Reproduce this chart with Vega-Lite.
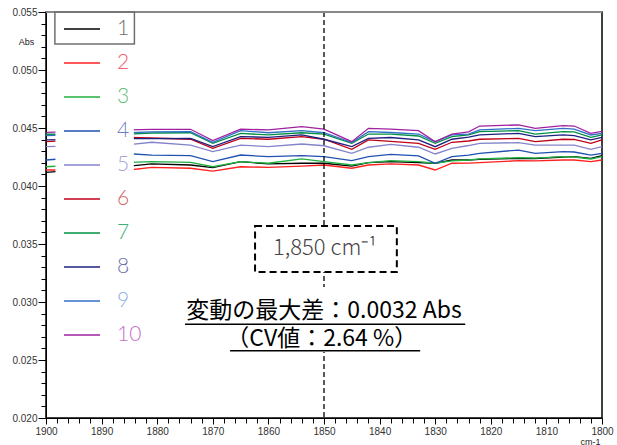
{
  "$schema": "https://vega.github.io/schema/vega-lite/v6.json",
  "width": 556,
  "height": 406,
  "autosize": {"type": "none"},
  "padding": {"left": 46, "top": 12, "right": 15, "bottom": 27},
  "background": "white",
  "config": {
    "view": {"stroke": "black", "strokeWidth": 1.5},
    "axis": {"grid": false, "domainColor": "black", "tickColor": "black", "labelFont": "Liberation Sans", "labelFontSize": 10, "labelColor": "#333333", "titleFont": "Liberation Sans", "titleColor": "#222222"}
  },
  "resolve": {"axis": {"x": "independent", "y": "independent"}},
  "datasets": {
    "spectra": [
      {"x": 1900, "1": 0.04118, "2": 0.04138, "3": 0.04166, "4": 0.04224, "5": 0.04339, "6": 0.04382, "7": 0.04446, "8": 0.04397, "9": 0.04434, "10": 0.04463},
      {"x": 1885, "1": 0.04172, "2": 0.04138, "3": 0.04204, "4": 0.04278, "5": 0.04356, "6": 0.04420, "7": 0.04448, "8": 0.04408, "9": 0.04459, "10": 0.04483},
      {"x": 1881, "1": 0.04190, "2": 0.04161, "3": 0.04210, "4": 0.04267, "5": 0.04377, "6": 0.04414, "7": 0.04457, "8": 0.04409, "9": 0.04466, "10": 0.04489},
      {"x": 1874, "1": 0.04181, "2": 0.04153, "3": 0.04204, "4": 0.04261, "5": 0.04353, "6": 0.04403, "7": 0.04459, "8": 0.04411, "9": 0.04468, "10": 0.04489},
      {"x": 1870, "1": 0.04158, "2": 0.04129, "3": 0.04166, "4": 0.04210, "5": 0.04296, "6": 0.04325, "7": 0.04368, "8": 0.04339, "9": 0.04377, "10": 0.04391},
      {"x": 1865, "1": 0.04210, "2": 0.04166, "3": 0.04210, "4": 0.04267, "5": 0.04353, "6": 0.04411, "7": 0.04454, "8": 0.04425, "9": 0.04477, "10": 0.04491},
      {"x": 1860, "1": 0.04190, "2": 0.04161, "3": 0.04196, "4": 0.04253, "5": 0.04339, "6": 0.04403, "7": 0.04440, "8": 0.04420, "9": 0.04459, "10": 0.04483},
      {"x": 1854, "1": 0.04196, "2": 0.04172, "3": 0.04233, "4": 0.04261, "5": 0.04362, "6": 0.04425, "7": 0.04459, "8": 0.04440, "9": 0.04477, "10": 0.04511},
      {"x": 1850, "1": 0.04196, "2": 0.04181, "3": 0.04210, "4": 0.04253, "5": 0.04347, "6": 0.04403, "7": 0.04448, "8": 0.04403, "9": 0.04459, "10": 0.04491},
      {"x": 1845, "1": 0.04172, "2": 0.04153, "3": 0.04181, "4": 0.04218, "5": 0.04282, "6": 0.04316, "7": 0.04368, "8": 0.04339, "9": 0.04374, "10": 0.04382},
      {"x": 1842, "1": 0.04201, "2": 0.04181, "3": 0.04201, "4": 0.04253, "5": 0.04334, "6": 0.04397, "7": 0.04448, "8": 0.04411, "9": 0.04468, "10": 0.04497},
      {"x": 1838, "1": 0.04210, "2": 0.04190, "3": 0.04218, "4": 0.04272, "5": 0.04358, "6": 0.04384, "7": 0.04448, "8": 0.04418, "9": 0.04461, "10": 0.04491},
      {"x": 1833, "1": 0.04201, "2": 0.04181, "3": 0.04210, "4": 0.04259, "5": 0.04334, "6": 0.04368, "7": 0.04431, "8": 0.04397, "9": 0.04448, "10": 0.04477},
      {"x": 1830, "1": 0.04196, "2": 0.04138, "3": 0.04196, "4": 0.04196, "5": 0.04276, "6": 0.04316, "7": 0.04368, "8": 0.04339, "9": 0.04382, "10": 0.04382},
      {"x": 1827, "1": 0.04224, "2": 0.04196, "3": 0.04216, "4": 0.04253, "5": 0.04325, "6": 0.04377, "7": 0.04425, "8": 0.04403, "9": 0.04440, "10": 0.04448},
      {"x": 1824, "1": 0.04224, "2": 0.04198, "3": 0.04224, "4": 0.04267, "5": 0.04349, "6": 0.04388, "7": 0.04440, "8": 0.04422, "9": 0.04448, "10": 0.04466},
      {"x": 1822, "1": 0.04230, "2": 0.04201, "3": 0.04233, "4": 0.04282, "5": 0.04368, "6": 0.04403, "7": 0.04468, "8": 0.04440, "9": 0.04483, "10": 0.04517},
      {"x": 1815, "1": 0.04239, "2": 0.04218, "3": 0.04244, "4": 0.04310, "5": 0.04374, "6": 0.04411, "7": 0.04477, "8": 0.04454, "9": 0.04497, "10": 0.04526},
      {"x": 1812, "1": 0.04237, "2": 0.04216, "3": 0.04241, "4": 0.04282, "5": 0.04353, "6": 0.04382, "7": 0.04448, "8": 0.04425, "9": 0.04477, "10": 0.04497},
      {"x": 1807, "1": 0.04250, "2": 0.04224, "3": 0.04253, "4": 0.04296, "5": 0.04353, "6": 0.04403, "7": 0.04468, "8": 0.04440, "9": 0.04497, "10": 0.04520},
      {"x": 1805, "1": 0.04253, "2": 0.04224, "3": 0.04250, "4": 0.04293, "5": 0.04353, "6": 0.04401, "7": 0.04466, "8": 0.04435, "9": 0.04491, "10": 0.04517},
      {"x": 1802, "1": 0.04239, "2": 0.04210, "3": 0.04233, "4": 0.04267, "5": 0.04316, "6": 0.04368, "7": 0.04420, "8": 0.04397, "9": 0.04440, "10": 0.04454},
      {"x": 1800, "1": 0.04261, "2": 0.04224, "3": 0.04253, "4": 0.04282, "5": 0.04339, "6": 0.04397, "7": 0.04440, "8": 0.04420, "9": 0.04454, "10": 0.04470}
    ]
  },
  "layer": [
    {
      "data": {"name": "spectra"},
      "transform": [{"fold": ["1", "2", "3", "4", "5", "6", "7", "8", "9", "10"], "as": ["series", "abs"]}],
      "mark": {"type": "line", "strokeWidth": 1.3},
      "encoding": {
        "x": {
          "field": "x", "type": "quantitative",
          "scale": {"domain": [1800, 1900], "reverse": true, "nice": false, "zero": false},
          "axis": {
            "orient": "bottom",
            "values": [1800,1802,1804,1806,1808,1810,1812,1814,1816,1818,1820,1822,1824,1826,1828,1830,1832,1834,1836,1838,1840,1842,1844,1846,1848,1850,1852,1854,1856,1858,1860,1862,1864,1866,1868,1870,1872,1874,1876,1878,1880,1882,1884,1886,1888,1890,1892,1894,1896,1898,1900],
            "labelExpr": "datum.value % 10 == 0 ? format(datum.value, 'd') : ''",
            "tickSize": {"condition": {"test": "datum.value % 10 == 0", "value": 6}, "value": 5},
            "labelOverlap": false,
            "labelFlush": false,
            "labelPadding": 2,
            "title": "cm-1",
            "titleFontSize": 9,
            "titleFontWeight": "normal",
            "titleAlign": "center",
            "titleBaseline": "middle",
            "titleX": 544,
            "titleY": 23
          }
        },
        "y": {
          "field": "abs", "type": "quantitative",
          "scale": {"domain": [0.02, 0.055], "nice": false, "zero": false},
          "axis": {
            "orient": "left",
            "values": [0.020,0.021,0.022,0.023,0.024,0.025,0.026,0.027,0.028,0.029,0.030,0.031,0.032,0.033,0.034,0.035,0.036,0.037,0.038,0.039,0.040,0.041,0.042,0.043,0.044,0.045,0.046,0.047,0.048,0.049,0.050,0.051,0.052,0.053,0.054,0.055],
            "labelExpr": "round(datum.value * 1000) % 5 == 0 ? format(datum.value, '.3f') : ''",
            "tickSize": {"condition": {"test": "round(datum.value * 1000) % 5 == 0", "value": 8}, "value": 5},
            "labelOverlap": false,
            "labelFlush": false,
            "labelPadding": 1,
            "title": "Abs",
            "titleFontSize": 9,
            "titleFontWeight": "normal",
            "titleAngle": 0,
            "titleAlign": "center",
            "titleBaseline": "middle",
            "titleX": -20,
            "titleY": 29
          }
        },
        "color": {
          "field": "series", "type": "nominal",
          "scale": {
            "domain": ["1", "2", "3", "4", "5", "6", "7", "8", "9", "10"],
            "range": ["#000000", "#ff2020", "#20b040", "#2050b0", "#8484cc", "#c00018", "#009040", "#202080", "#3070c8", "#a020a0"]
          },
          "legend": {
            "orient": "none",
            "legendX": 10,
            "legendY": -9,
            "title": null,
            "padding": 7,
            "symbolType": "stroke",
            "symbolSize": 1296,
            "symbolStrokeWidth": 1.3,
            "labelFont": "Lato",
            "labelFontWeight": 300,
            "labelFontSize": 21,
            "labelOffset": 16,
            "labelLimit": 80,
            "rowPadding": 5,
            "encode": {
              "labels": {
                "update": {
                  "fill": {"signal": "['#6e6e6e','#f0606a','#5cc070','#6a7ec4','#a0a4d8','#d06868','#3cb078','#6a70b0','#8cb0e4','#c870c8'][indexof(['1','2','3','4','5','6','7','8','9','10'], datum.value)]"}
                }
              }
            }
          }
        }
      }
    },
    {
      "data": {"values": [{}]},
      "mark": {"type": "rect", "fill": "white", "strokeWidth": 0},
      "encoding": {
        "x": {"datum": 1898.3, "type": "quantitative", "axis": null},
        "x2": {"datum": 1884.2},
        "y": {"datum": 0.055, "type": "quantitative", "axis": null},
        "y2": {"datum": 0.0255}
      }
    },
    {
      "data": {"values": [{}]},
      "mark": {"type": "rule", "color": "black", "strokeWidth": 1.3, "strokeDash": [5, 3]},
      "encoding": {
        "x": {"datum": 1850, "type": "quantitative", "axis": null}
      }
    },
    {
      "data": {"values": [{}]},
      "mark": {"type": "rect", "fill": "white", "strokeWidth": 0},
      "encoding": {
        "x": {"datum": 1851.5, "type": "quantitative", "axis": null},
        "x2": {"datum": 1848.5},
        "y": {"datum": 0.0313, "type": "quantitative", "axis": null},
        "y2": {"datum": 0.0257}
      }
    },
    {
      "data": {"values": [{}]},
      "mark": {"type": "rect", "fill": "white", "stroke": "black", "strokeWidth": 2, "strokeDash": [7, 4]},
      "encoding": {
        "x": {"datum": 1862.4, "type": "quantitative", "axis": null},
        "x2": {"datum": 1836.9},
        "y": {"datum": 0.03655, "type": "quantitative", "axis": null},
        "y2": {"datum": 0.03259}
      }
    },
    {
      "data": {"values": [{"label": "1,850 cm⁻¹"}]},
      "mark": {"type": "text", "font": "Noto Sans CJK JP", "fontSize": 22, "fontWeight": 300, "color": "#444444", "align": "center", "baseline": "middle"},
      "encoding": {
        "x": {"datum": 1849.8, "type": "quantitative", "axis": null},
        "y": {"datum": 0.03467, "type": "quantitative", "axis": null},
        "text": {"field": "label"}
      }
    },
    {
      "data": {"values": [{"label": "変動の最大差：0.0032 Abs"}]},
      "mark": {"type": "text", "font": "Noto Sans CJK JP", "fontSize": 23, "color": "black", "align": "center", "baseline": "middle"},
      "encoding": {
        "x": {"datum": 1850, "type": "quantitative", "axis": null},
        "y": {"datum": 0.02922, "type": "quantitative", "axis": null},
        "text": {"field": "label"}
      }
    },
    {
      "data": {"values": [{"label": "（CV値：2.64 %）"}]},
      "mark": {"type": "text", "font": "Noto Sans CJK JP", "fontSize": 23, "color": "black", "align": "center", "baseline": "middle"},
      "encoding": {
        "x": {"datum": 1850.4, "type": "quantitative", "axis": null},
        "y": {"datum": 0.02681, "type": "quantitative", "axis": null},
        "text": {"field": "label"}
      }
    },
    {
      "data": {"values": [{}]},
      "mark": {"type": "rule", "color": "black", "strokeWidth": 1.5},
      "encoding": {
        "x": {"datum": 1875.0, "type": "quantitative", "axis": null},
        "x2": {"datum": 1824.6},
        "y": {"datum": 0.02808, "type": "quantitative", "axis": null}
      }
    },
    {
      "data": {"values": [{}]},
      "mark": {"type": "rule", "color": "black", "strokeWidth": 1.5},
      "encoding": {
        "x": {"datum": 1866.9, "type": "quantitative", "axis": null},
        "x2": {"datum": 1832.7},
        "y": {"datum": 0.0258, "type": "quantitative", "axis": null}
      }
    },
    {
      "data": {"values": [{}]},
      "mark": {"type": "rule", "color": "#888888", "strokeWidth": 2},
      "encoding": {
        "y": {"datum": 0.055, "type": "quantitative", "axis": null}
      }
    },
    {
      "data": {"values": [{}]},
      "mark": {"type": "rect", "filled": false, "color": "#707070", "strokeWidth": 1.5},
      "encoding": {
        "x": {"datum": 1898.4, "type": "quantitative", "axis": null},
        "x2": {"datum": 1884.1},
        "y": {"datum": 0.055, "type": "quantitative", "axis": null},
        "y2": {"datum": 0.05224}
      }
    }
  ]
}
